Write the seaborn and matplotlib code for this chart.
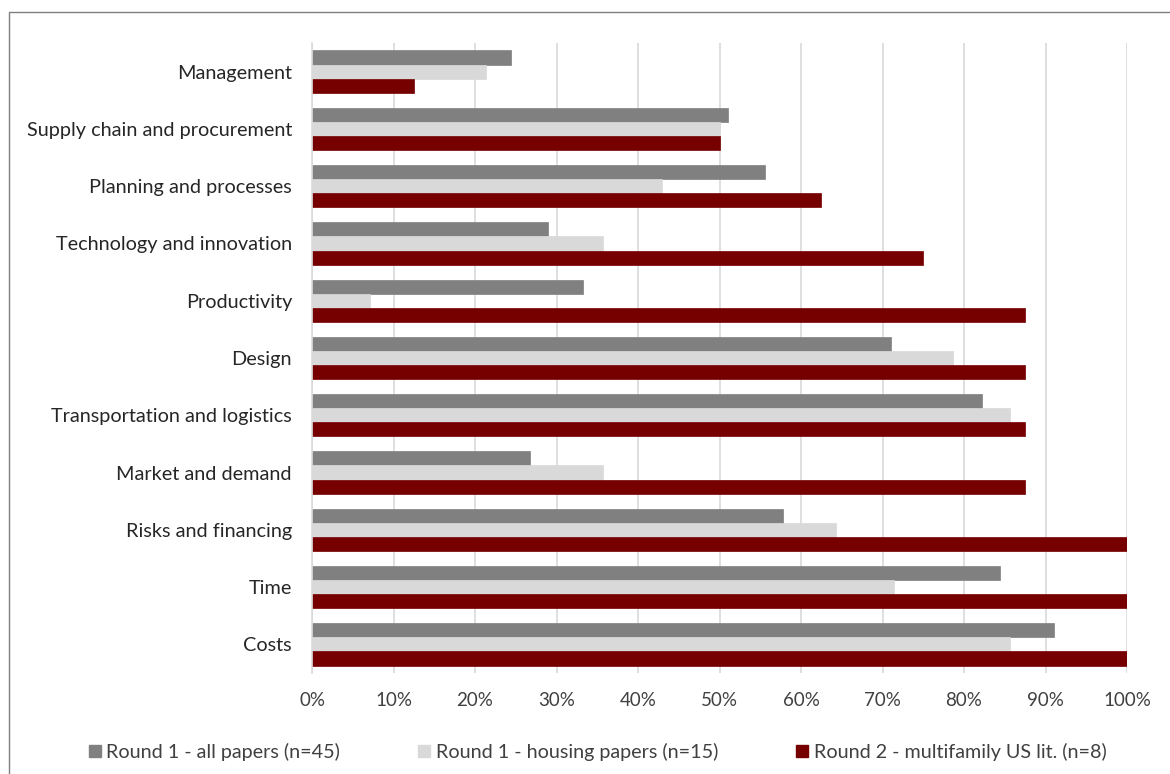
import matplotlib
matplotlib.use("Agg")
import matplotlib.pyplot as plt
import seaborn as sns
import pandas as pd
from matplotlib.patches import Rectangle

categories = ["Management", "Supply chain and procurement", "Planning and processes",
              "Technology and innovation", "Productivity", "Design",
              "Transportation and logistics", "Market and demand",
              "Risks and financing", "Time", "Costs"]
all_papers = [24.4, 51.1, 55.6, 28.9, 33.3, 71.1, 82.2, 26.7, 57.8, 84.4, 91.1]
housing_papers = [21.4, 50.0, 42.9, 35.7, 7.1, 78.6, 85.7, 35.7, 64.3, 71.4, 85.7]
multifamily = [12.5, 50.0, 62.5, 75.0, 87.5, 87.5, 87.5, 87.5, 100.0, 100.0, 100.0]
series_names = ["Round 1 - all papers (n=45)", "Round 1 - housing papers (n=15)",
                "Round 2 - multifamily US lit. (n=8)"]
x_ticks = list(range(0, 101, 10))
x_tick_labels = [f"{t}%" for t in x_ticks]
colors = ["#808080", "#D9D9D9", "#760000"]

rows = []
for name, vals in zip(series_names, [all_papers, housing_papers, multifamily]):
    for c, v in zip(categories, vals):
        rows.append({"category": c, "value": v, "series": name})
df = pd.DataFrame(rows)

sns.set_style("white")
plt.rcParams["font.family"] = ["Lato", "DejaVu Sans"]

fig = plt.figure(figsize=(11.7, 7.74), dpi=100)
ax = fig.add_axes([312/1170, 1-673/774, (1127-312)/1170, (673-43)/774])

sns.barplot(data=df, y="category", x="value", hue="series", order=categories,
            hue_order=series_names, palette=colors, saturation=1, orient="h",
            width=0.74, ax=ax, legend=False, errorbar=None)
for bars, col in zip(ax.containers, colors):
    for b in bars:
        b.set_edgecolor(col)
        b.set_linewidth(0.5)

ax.set_xlim(0, 100)
ax.set_xticks(x_ticks)
ax.set_xticklabels(x_tick_labels, fontsize=13.5, color="#404040")
ax.tick_params(axis="x", length=0, pad=14)
ax.tick_params(axis="y", length=0, pad=14.4, labelsize=14.3, labelcolor="#262626")
ax.set_xlabel("")
ax.set_ylabel("")
ax.set_axisbelow(True)
ax.grid(axis="x", color="#D9D9D9", linewidth=1.2)
ax.grid(axis="y", visible=False)
for s in ["top", "right", "bottom"]:
    ax.spines[s].set_visible(False)
ax.spines["left"].set_color("#D9D9D9")
ax.spines["left"].set_linewidth(1.2)

handles = [Rectangle((0, 0), 1, 1, facecolor=c, edgecolor=c) for c in colors]
fig.legend(handles, series_names, loc="center left",
           bbox_to_anchor=(71/1170, 1-752/774), ncol=3, frameon=False,
           fontsize=14.2, handlelength=0.6, handleheight=0.6, handletextpad=0.3,
           columnspacing=3.95, labelcolor="#404040")

fig.patches.append(Rectangle((9/1170, -0.05), 1.2, 1-12/774+0.05,
                             transform=fig.transFigure, fill=False,
                             edgecolor="#7f7f7f", linewidth=1.0))

fig.savefig("out.png", dpi=100)
